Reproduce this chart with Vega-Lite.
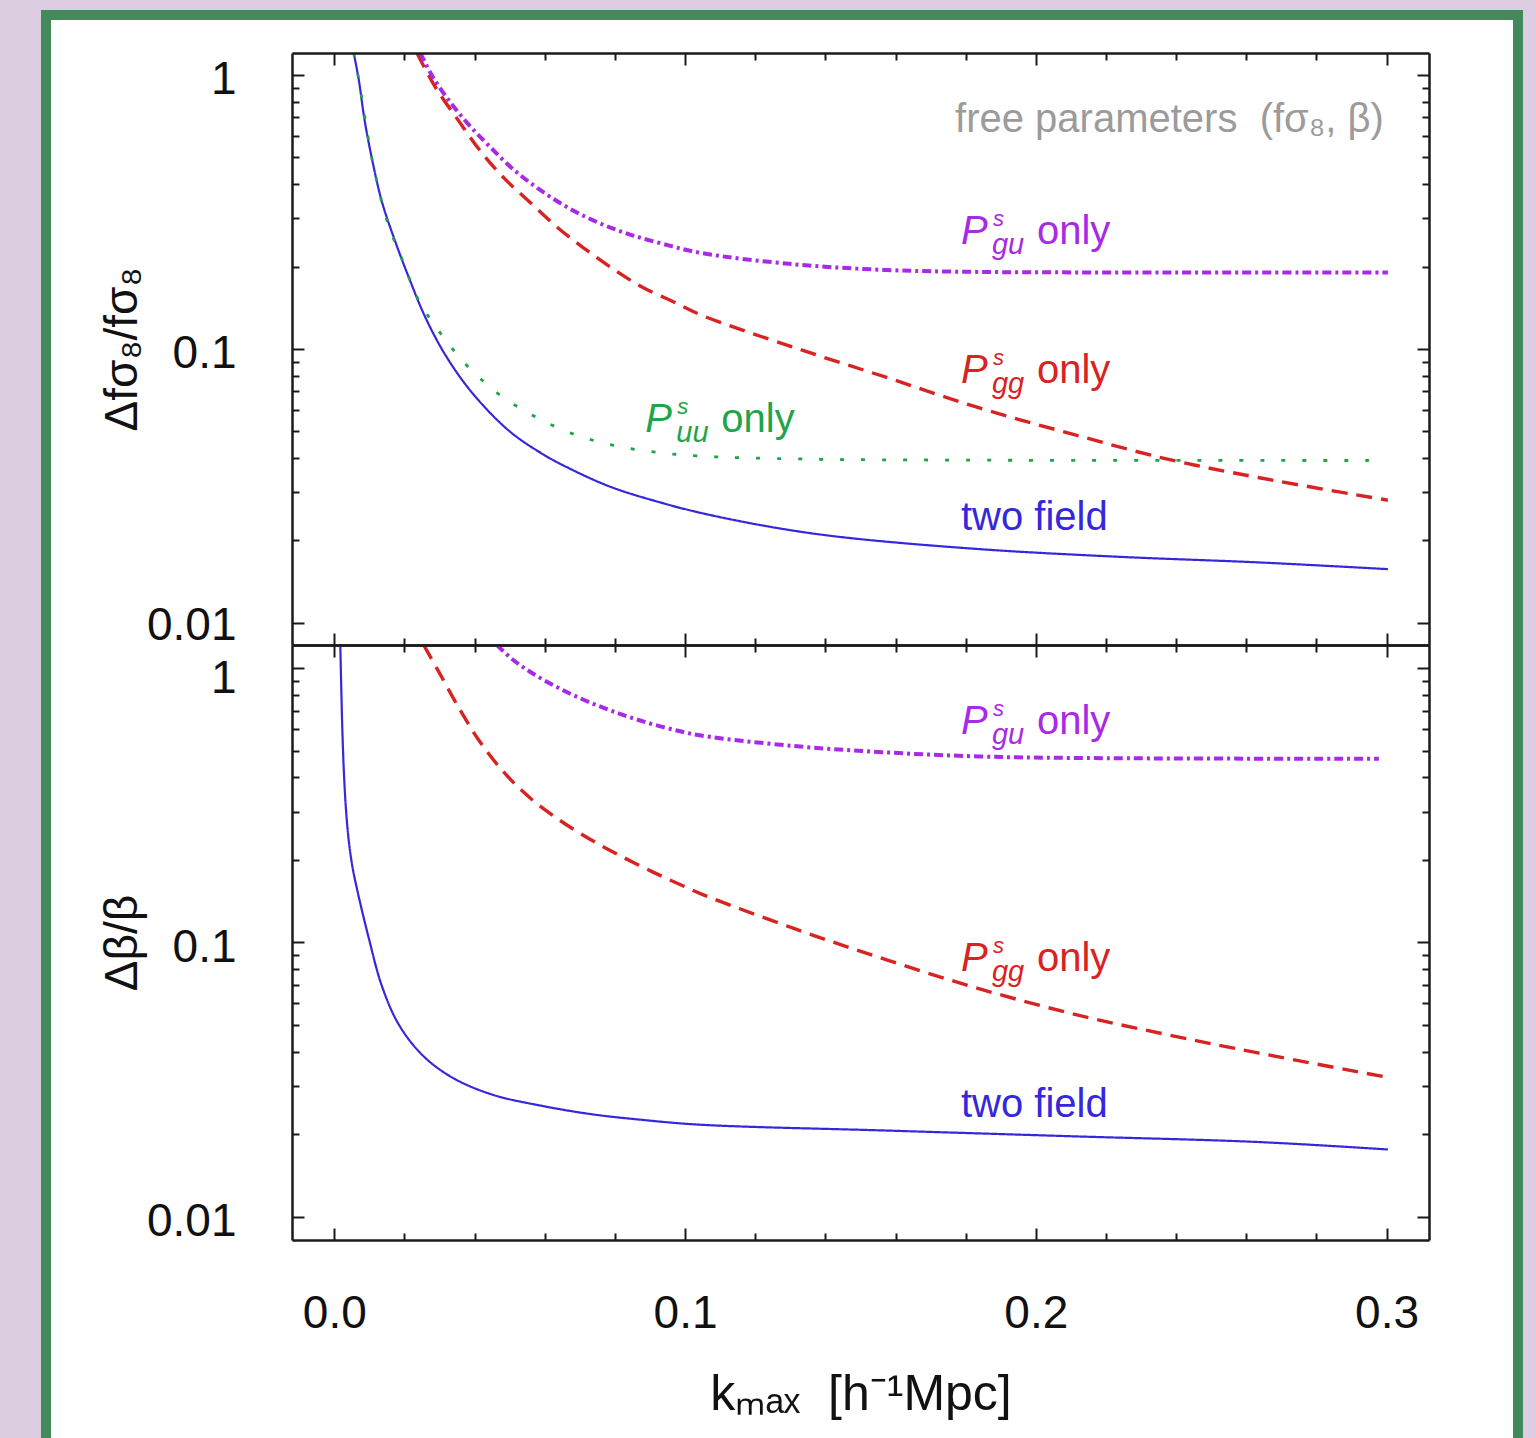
{
  "$schema": "https://vega.github.io/schema/vega-lite/v6.json",
  "background": "#dccde0",
  "padding": {"left": 40, "top": 10, "right": 14, "bottom": 0},
  "spacing": 0,
  "bounds": "flush",
  "resolve": {"scale": {"x": "independent", "y": "independent"}},
  "config": {
    "view": {"stroke": null},
    "axis": {"grid": false, "domainColor": "#1a1a1a", "domainWidth": 2.5, "tickColor": "#1a1a1a", "tickWidth": 2, "zindex": 1, "labelFont": "Liberation Sans", "titleFont": "Liberation Sans", "labelColor": "#111111", "titleColor": "#111111", "labelFontSize": 46, "titleFontWeight": "normal", "labelOverlap": false, "labelFlush": false},
    "text": {"font": "Liberation Sans"}
  },
  "datasets": {
    "topLines": [
      {"series": "two field", "k": 0.00553, "v": 1.203}, {"series": "two field", "k": 0.00696, "v": 0.9637}, {"series": "two field", "k": 0.00867, "v": 0.680}, {"series": "two field", "k": 0.01095, "v": 0.4797}, {"series": "two field", "k": 0.0136, "v": 0.3437}, {"series": "two field", "k": 0.01739, "v": 0.2464}, {"series": "two field", "k": 0.02167, "v": 0.1767}, {"series": "two field", "k": 0.02594, "v": 0.1306}, {"series": "two field", "k": 0.03164, "v": 0.0952}, {"series": "two field", "k": 0.03925, "v": 0.0693}, {"series": "two field", "k": 0.04971, "v": 0.0504}, {"series": "two field", "k": 0.05892, "v": 0.0417}, {"series": "two field", "k": 0.06682, "v": 0.03675}, {"series": "two field", "k": 0.07888, "v": 0.03135}, {"series": "two field", "k": 0.09248, "v": 0.02764}, {"series": "two field", "k": 0.10453, "v": 0.02521}, {"series": "two field", "k": 0.12449, "v": 0.02241}, {"series": "two field", "k": 0.14424, "v": 0.0206}, {"series": "two field", "k": 0.18395, "v": 0.0186}, {"series": "two field", "k": 0.22363, "v": 0.01744}, {"series": "two field", "k": 0.26331, "v": 0.01664}, {"series": "two field", "k": 0.30037, "v": 0.01572},
      {"series": "uu", "k": 0.00553, "v": 1.203}, {"series": "uu", "k": 0.00696, "v": 0.9637}, {"series": "uu", "k": 0.01095, "v": 0.4797}, {"series": "uu", "k": 0.01522, "v": 0.2888}, {"series": "uu", "k": 0.01958, "v": 0.2083}, {"series": "uu", "k": 0.02406, "v": 0.1507}, {"series": "uu", "k": 0.0307, "v": 0.1122}, {"series": "uu", "k": 0.03831, "v": 0.0857}, {"series": "uu", "k": 0.04732, "v": 0.0678}, {"series": "uu", "k": 0.0575, "v": 0.0564}, {"series": "uu", "k": 0.06824, "v": 0.0489}, {"series": "uu", "k": 0.07965, "v": 0.04444}, {"series": "uu", "k": 0.09151, "v": 0.04201}, {"series": "uu", "k": 0.1034, "v": 0.0407}, {"series": "uu", "k": 0.13304, "v": 0.03968}, {"series": "uu", "k": 0.18, "v": 0.0393}, {"series": "uu", "k": 0.29495, "v": 0.03918},
      {"series": "gg", "k": 0.02357, "v": 1.203}, {"series": "gg", "k": 0.02879, "v": 0.904}, {"series": "gg", "k": 0.03546, "v": 0.680}, {"series": "gg", "k": 0.0421, "v": 0.519}, {"series": "gg", "k": 0.04875, "v": 0.416}, {"series": "gg", "k": 0.05636, "v": 0.338}, {"series": "gg", "k": 0.06397, "v": 0.2753}, {"series": "gg", "k": 0.07155, "v": 0.2313}, {"series": "gg", "k": 0.07916, "v": 0.1973}, {"series": "gg", "k": 0.08771, "v": 0.1684}, {"series": "gg", "k": 0.09721, "v": 0.1476}, {"series": "gg", "k": 0.10453, "v": 0.1331}, {"series": "gg", "k": 0.13101, "v": 0.1013}, {"series": "gg", "k": 0.15747, "v": 0.0787}, {"series": "gg", "k": 0.18395, "v": 0.0609}, {"series": "gg", "k": 0.21041, "v": 0.0489}, {"series": "gg", "k": 0.23689, "v": 0.0398}, {"series": "gg", "k": 0.26331, "v": 0.03396}, {"series": "gg", "k": 0.30037, "v": 0.02806},
      {"series": "gu", "k": 0.02452, "v": 1.203}, {"series": "gu", "k": 0.02785, "v": 0.995}, {"series": "gu", "k": 0.03261, "v": 0.809}, {"series": "gu", "k": 0.03831, "v": 0.659}, {"series": "gu", "k": 0.04401, "v": 0.553}, {"series": "gu", "k": 0.05066, "v": 0.457}, {"series": "gu", "k": 0.05827, "v": 0.3837}, {"series": "gu", "k": 0.06682, "v": 0.327}, {"series": "gu", "k": 0.07537, "v": 0.2888}, {"series": "gu", "k": 0.08392, "v": 0.2626}, {"series": "gu", "k": 0.09341, "v": 0.2424}, {"series": "gu", "k": 0.10453, "v": 0.2241}, {"series": "gu", "k": 0.13101, "v": 0.2038}, {"series": "gu", "k": 0.15747, "v": 0.1942}, {"series": "gu", "k": 0.18395, "v": 0.1911}, {"series": "gu", "k": 0.24, "v": 0.1902}, {"series": "gu", "k": 0.30037, "v": 0.19}
    ],
    "bottomLines": [
      {"series": "two field", "k": 0.00171, "v": 1.213}, {"series": "two field", "k": 0.002, "v": 0.8316}, {"series": "two field", "k": 0.00234, "v": 0.5702}, {"series": "two field", "k": 0.00277, "v": 0.4076}, {"series": "two field", "k": 0.00334, "v": 0.304}, {"series": "two field", "k": 0.0041, "v": 0.2363}, {"series": "two field", "k": 0.00513, "v": 0.1901}, {"series": "two field", "k": 0.00647, "v": 0.1567}, {"series": "two field", "k": 0.00981, "v": 0.1039}, {"series": "two field", "k": 0.0136, "v": 0.0692}, {"series": "two field", "k": 0.01836, "v": 0.0503}, {"series": "two field", "k": 0.025, "v": 0.039}, {"series": "two field", "k": 0.03355, "v": 0.03224}, {"series": "two field", "k": 0.04495, "v": 0.02793}, {"series": "two field", "k": 0.05921, "v": 0.02539}, {"series": "two field", "k": 0.07346, "v": 0.02366}, {"series": "two field", "k": 0.08771, "v": 0.02258}, {"series": "two field", "k": 0.10453, "v": 0.02167}, {"series": "two field", "k": 0.15747, "v": 0.02064}, {"series": "two field", "k": 0.21041, "v": 0.01967}, {"series": "two field", "k": 0.26331, "v": 0.01875}, {"series": "two field", "k": 0.30037, "v": 0.01761},
      {"series": "gg", "k": 0.02548, "v": 1.213}, {"series": "gg", "k": 0.02976, "v": 0.97}, {"series": "gg", "k": 0.03546, "v": 0.7176}, {"series": "gg", "k": 0.04116, "v": 0.547}, {"series": "gg", "k": 0.04781, "v": 0.4243}, {"series": "gg", "k": 0.05542, "v": 0.3396}, {"series": "gg", "k": 0.06397, "v": 0.2805}, {"series": "gg", "k": 0.07252, "v": 0.2393}, {"series": "gg", "k": 0.08107, "v": 0.2084}, {"series": "gg", "k": 0.09057, "v": 0.1812}, {"series": "gg", "k": 0.10006, "v": 0.1594}, {"series": "gg", "k": 0.10453, "v": 0.1503}, {"series": "gg", "k": 0.13101, "v": 0.1125}, {"series": "gg", "k": 0.15747, "v": 0.0864}, {"series": "gg", "k": 0.18395, "v": 0.0678}, {"series": "gg", "k": 0.21041, "v": 0.055}, {"series": "gg", "k": 0.23689, "v": 0.0463}, {"series": "gg", "k": 0.26331, "v": 0.0396}, {"series": "gg", "k": 0.30037, "v": 0.03224},
      {"series": "gu", "k": 0.04638, "v": 1.213}, {"series": "gu", "k": 0.05066, "v": 1.0784}, {"series": "gu", "k": 0.05636, "v": 0.9589}, {"series": "gu", "k": 0.06397, "v": 0.8456}, {"series": "gu", "k": 0.07155, "v": 0.7614}, {"series": "gu", "k": 0.07916, "v": 0.6973}, {"series": "gu", "k": 0.08677, "v": 0.6464}, {"series": "gu", "k": 0.09533, "v": 0.6019}, {"series": "gu", "k": 0.10453, "v": 0.5676}, {"series": "gu", "k": 0.13101, "v": 0.5199}, {"series": "gu", "k": 0.15747, "v": 0.4924}, {"series": "gu", "k": 0.18395, "v": 0.4761}, {"series": "gu", "k": 0.21041, "v": 0.4702}, {"series": "gu", "k": 0.29781, "v": 0.4667}
    ],
    "topP": [
      {"series": "gu", "sub": "gu", "k": 0.17865, "v": 0.2424},
      {"series": "gg", "sub": "gg", "k": 0.17865, "v": 0.0750},
      {"series": "uu", "sub": "uu", "k": 0.08866, "v": 0.0497}
    ],
    "bottomP": [
      {"series": "gu", "sub": "gu", "k": 0.17865, "v": 0.574},
      {"series": "gg", "sub": "gg", "k": 0.17865, "v": 0.0786}
    ],
    "topPlain": [
      {"series": "two field", "label": "two field", "k": 0.17865, "v": 0.02178},
      {"series": "note", "label": "free parameters\u00a0\u00a0(fσ₈, β)", "k": 0.29923, "v": 0.621}
    ],
    "bottomPlain": [
      {"series": "two field", "label": "two field", "k": 0.17865, "v": 0.02307}
    ]
  },
  "vconcat": [
    {
      "width": 1137,
      "height": 592,
      "resolve": {"axis": {"x": "independent", "y": "independent"}},
      "layer": [
        {
          "data": {"values": [{}]},
          "mark": {"type": "rect", "fill": "#428a5a", "clip": false},
          "encoding": {
            "x": {"datum": -0.08362, "type": "quantitative", "scale": {"domain": [-0.01206, 0.31209], "nice": false, "zero": false}, "axis": null},
            "x2": {"datum": 0.33889},
            "y": {"datum": 1.7264, "type": "quantitative", "scale": {"type": "log", "domain": [0.00831, 1.203], "nice": false}, "axis": null},
            "y2": {"datum": 0.000010606}
          }
        },
        {
          "data": {"values": [{}]},
          "mark": {"type": "rect", "fill": "#ffffff", "clip": false},
          "encoding": {
            "x": {"datum": -0.08077, "type": "quantitative", "scale": {"domain": [-0.01206, 0.31209], "nice": false, "zero": false}, "axis": null},
            "x2": {"datum": 0.33604},
            "y": {"datum": 1.5878, "type": "quantitative", "scale": {"type": "log", "domain": [0.00831, 1.203], "nice": false}, "axis": null},
            "y2": {"datum": 0.000010606}
          }
        },
        {
          "data": {"name": "topLines"},
          "mark": {"type": "line", "clip": true, "interpolate": "catmull-rom"},
          "encoding": {
            "x": {"field": "k", "type": "quantitative", "scale": {"domain": [-0.01206, 0.31209], "nice": false, "zero": false},
              "axis": {"orient": "bottom", "zindex": 2, "values": [0, 0.02, 0.04, 0.06, 0.08, 0.1, 0.12, 0.14, 0.16, 0.18, 0.2, 0.22, 0.24, 0.26, 0.28, 0.3], "labels": false, "title": null,
                "tickSize": {"condition": {"test": "abs(datum.value*10 - round(datum.value*10)) < 0.001", "value": -12}, "value": -7}}},
            "y": {"field": "v", "type": "quantitative", "scale": {"type": "log", "domain": [0.00831, 1.203], "nice": false},
              "axis": {"orient": "left", "zindex": 2, "values": [0.01, 0.02, 0.03, 0.04, 0.05, 0.06, 0.07, 0.08, 0.09, 0.1, 0.2, 0.3, 0.4, 0.5, 0.6, 0.7, 0.8, 0.9, 1],
                "labelExpr": "datum.value === 1 ? '1' : datum.value === 0.1 ? '0.1' : datum.value === 0.01 ? '0.01' : ''",
                "labelPadding": 68, "labelOffset": {"condition": {"test": "datum.value === 0.01", "value": 3}, "value": 5},
                "title": "Δfσ₈/fσ₈", "titleFontSize": 46, "titlePadding": 0,
                "tickSize": {"condition": {"test": "datum.value === 1 || datum.value === 0.1 || datum.value === 0.01", "value": -12}, "value": -7}}},
            "color": {"field": "series", "type": "nominal", "scale": {"domain": ["two field", "uu", "gg", "gu", "note"], "range": ["#3527dc", "#1fa448", "#d92222", "#a82ae6", "#9b9b9b"]}, "legend": null},
            "strokeDash": {"field": "series", "type": "nominal", "scale": {"domain": ["two field", "uu", "gg", "gu"], "range": [[1, 0], [4, 17], [16, 9], [9, 4, 3, 4]]}, "legend": null},
            "strokeWidth": {"field": "series", "type": "ordinal", "scale": {"domain": ["two field", "uu", "gg", "gu"], "range": [2.2, 4, 2.5, 2.5]}, "legend": null}
          }
        },
        {
          "data": {"name": "topP"},
          "mark": {"type": "text", "text": "P", "fontSize": 40, "fontStyle": "italic", "align": "left", "baseline": "alphabetic"},
          "encoding": {
            "x": {"field": "k", "type": "quantitative",
              "axis": {"orient": "top", "zindex": 2, "values": [0, 0.02, 0.04, 0.06, 0.08, 0.1, 0.12, 0.14, 0.16, 0.18, 0.2, 0.22, 0.24, 0.26, 0.28, 0.3], "labels": false, "title": null,
                "tickSize": {"condition": {"test": "abs(datum.value*10 - round(datum.value*10)) < 0.001", "value": -12}, "value": -7}}},
            "y": {"field": "v", "type": "quantitative",
              "axis": {"orient": "right", "zindex": 2, "values": [0.01, 0.02, 0.03, 0.04, 0.05, 0.06, 0.07, 0.08, 0.09, 0.1, 0.2, 0.3, 0.4, 0.5, 0.6, 0.7, 0.8, 0.9, 1], "labels": false, "title": null,
                "tickSize": {"condition": {"test": "datum.value === 1 || datum.value === 0.1 || datum.value === 0.01", "value": -12}, "value": -7}}},
            "color": {"field": "series", "type": "nominal", "scale": {"domain": ["two field", "uu", "gg", "gu", "note"], "range": ["#3527dc", "#1fa448", "#d92222", "#a82ae6", "#9b9b9b"]}, "legend": null}
          }
        },
        {
          "data": {"name": "topP"},
          "mark": {"type": "text", "text": "s", "fontSize": 22, "fontStyle": "italic", "align": "left", "baseline": "alphabetic", "dx": 32, "dy": -18},
          "encoding": {
            "x": {"field": "k", "type": "quantitative", "axis": null},
            "y": {"field": "v", "type": "quantitative", "axis": null},
            "color": {"field": "series", "type": "nominal", "legend": null}
          }
        },
        {
          "data": {"name": "topP"},
          "mark": {"type": "text", "fontSize": 29, "fontStyle": "italic", "align": "left", "baseline": "alphabetic", "dx": 31, "dy": 10},
          "encoding": {
            "x": {"field": "k", "type": "quantitative", "axis": null},
            "y": {"field": "v", "type": "quantitative", "axis": null},
            "text": {"field": "sub"},
            "color": {"field": "series", "type": "nominal", "legend": null}
          }
        },
        {
          "data": {"name": "topP"},
          "mark": {"type": "text", "text": "only", "fontSize": 40, "align": "left", "baseline": "alphabetic", "dx": 76},
          "encoding": {
            "x": {"field": "k", "type": "quantitative", "axis": null},
            "y": {"field": "v", "type": "quantitative", "axis": null},
            "color": {"field": "series", "type": "nominal", "legend": null}
          }
        },
        {
          "data": {"name": "topPlain"},
          "transform": [{"filter": "datum.series === 'two field'"}],
          "mark": {"type": "text", "fontSize": 40, "align": "left", "baseline": "alphabetic"},
          "encoding": {
            "x": {"field": "k", "type": "quantitative", "axis": null},
            "y": {"field": "v", "type": "quantitative", "axis": null},
            "text": {"field": "label"},
            "color": {"field": "series", "type": "nominal", "legend": null}
          }
        },
        {
          "data": {"name": "topPlain"},
          "transform": [{"filter": "datum.series === 'note'"}],
          "mark": {"type": "text", "fontSize": 40, "align": "right", "baseline": "alphabetic"},
          "encoding": {
            "x": {"field": "k", "type": "quantitative", "axis": null},
            "y": {"field": "v", "type": "quantitative", "axis": null},
            "text": {"field": "label"},
            "color": {"field": "series", "type": "nominal", "legend": null}
          }
        }
      ]
    },
    {
      "width": 1137,
      "height": 595,
      "resolve": {"axis": {"x": "independent", "y": "independent"}},
      "layer": [
        {
          "data": {"name": "bottomLines"},
          "mark": {"type": "line", "clip": true, "interpolate": "catmull-rom"},
          "encoding": {
            "x": {"field": "k", "type": "quantitative", "scale": {"domain": [-0.01206, 0.31209], "nice": false, "zero": false},
              "axis": {"orient": "bottom", "zindex": 2, "values": [0, 0.02, 0.04, 0.06, 0.08, 0.1, 0.12, 0.14, 0.16, 0.18, 0.2, 0.22, 0.24, 0.26, 0.28, 0.3],
                "labelExpr": "abs(datum.value*10 - round(datum.value*10)) < 0.001 ? format(datum.value, '.1f') : ''",
                "labelPadding": 63,
                "title": "kₘₐₓ\u00a0\u00a0[h⁻¹Mpc]", "titleFontSize": 50, "titlePadding": 28,
                "tickSize": {"condition": {"test": "abs(datum.value*10 - round(datum.value*10)) < 0.001", "value": -12}, "value": -7}}},
            "y": {"field": "v", "type": "quantitative", "scale": {"type": "log", "domain": [0.00824, 1.213], "nice": false},
              "axis": {"orient": "left", "zindex": 2, "values": [0.01, 0.02, 0.03, 0.04, 0.05, 0.06, 0.07, 0.08, 0.09, 0.1, 0.2, 0.3, 0.4, 0.5, 0.6, 0.7, 0.8, 0.9, 1],
                "labelExpr": "datum.value === 1 ? '1' : datum.value === 0.1 ? '0.1' : datum.value === 0.01 ? '0.01' : ''",
                "labelPadding": 68, "labelOffset": {"condition": {"test": "datum.value === 1", "value": 10}, "value": 5},
                "title": "Δβ/β", "titleFontSize": 46, "titlePadding": 0,
                "tickSize": {"condition": {"test": "datum.value === 1 || datum.value === 0.1 || datum.value === 0.01", "value": -12}, "value": -7}}},
            "color": {"field": "series", "type": "nominal", "scale": {"domain": ["two field", "uu", "gg", "gu", "note"], "range": ["#3527dc", "#1fa448", "#d92222", "#a82ae6", "#9b9b9b"]}, "legend": null},
            "strokeDash": {"field": "series", "type": "nominal", "scale": {"domain": ["two field", "uu", "gg", "gu"], "range": [[1, 0], [4, 17], [16, 9], [9, 4, 3, 4]]}, "legend": null},
            "strokeWidth": {"field": "series", "type": "ordinal", "scale": {"domain": ["two field", "uu", "gg", "gu"], "range": [2.2, 4, 2.5, 2.5]}, "legend": null}
          }
        },
        {
          "data": {"name": "bottomP"},
          "mark": {"type": "text", "text": "P", "fontSize": 40, "fontStyle": "italic", "align": "left", "baseline": "alphabetic"},
          "encoding": {
            "x": {"field": "k", "type": "quantitative",
              "axis": {"orient": "top", "zindex": 2, "values": [0, 0.02, 0.04, 0.06, 0.08, 0.1, 0.12, 0.14, 0.16, 0.18, 0.2, 0.22, 0.24, 0.26, 0.28, 0.3], "labels": false, "title": null,
                "tickSize": {"condition": {"test": "abs(datum.value*10 - round(datum.value*10)) < 0.001", "value": -12}, "value": -7}}},
            "y": {"field": "v", "type": "quantitative",
              "axis": {"orient": "right", "zindex": 2, "values": [0.01, 0.02, 0.03, 0.04, 0.05, 0.06, 0.07, 0.08, 0.09, 0.1, 0.2, 0.3, 0.4, 0.5, 0.6, 0.7, 0.8, 0.9, 1], "labels": false, "title": null,
                "tickSize": {"condition": {"test": "datum.value === 1 || datum.value === 0.1 || datum.value === 0.01", "value": -12}, "value": -7}}},
            "color": {"field": "series", "type": "nominal", "scale": {"domain": ["two field", "uu", "gg", "gu", "note"], "range": ["#3527dc", "#1fa448", "#d92222", "#a82ae6", "#9b9b9b"]}, "legend": null}
          }
        },
        {
          "data": {"name": "bottomP"},
          "mark": {"type": "text", "text": "s", "fontSize": 22, "fontStyle": "italic", "align": "left", "baseline": "alphabetic", "dx": 32, "dy": -18},
          "encoding": {
            "x": {"field": "k", "type": "quantitative", "axis": null},
            "y": {"field": "v", "type": "quantitative", "axis": null},
            "color": {"field": "series", "type": "nominal", "legend": null}
          }
        },
        {
          "data": {"name": "bottomP"},
          "mark": {"type": "text", "fontSize": 29, "fontStyle": "italic", "align": "left", "baseline": "alphabetic", "dx": 31, "dy": 10},
          "encoding": {
            "x": {"field": "k", "type": "quantitative", "axis": null},
            "y": {"field": "v", "type": "quantitative", "axis": null},
            "text": {"field": "sub"},
            "color": {"field": "series", "type": "nominal", "legend": null}
          }
        },
        {
          "data": {"name": "bottomP"},
          "mark": {"type": "text", "text": "only", "fontSize": 40, "align": "left", "baseline": "alphabetic", "dx": 76},
          "encoding": {
            "x": {"field": "k", "type": "quantitative", "axis": null},
            "y": {"field": "v", "type": "quantitative", "axis": null},
            "color": {"field": "series", "type": "nominal", "legend": null}
          }
        },
        {
          "data": {"name": "bottomPlain"},
          "mark": {"type": "text", "fontSize": 40, "align": "left", "baseline": "alphabetic"},
          "encoding": {
            "x": {"field": "k", "type": "quantitative", "axis": null},
            "y": {"field": "v", "type": "quantitative", "axis": null},
            "text": {"field": "label"},
            "color": {"field": "series", "type": "nominal", "legend": null}
          }
        }
      ]
    }
  ]
}
